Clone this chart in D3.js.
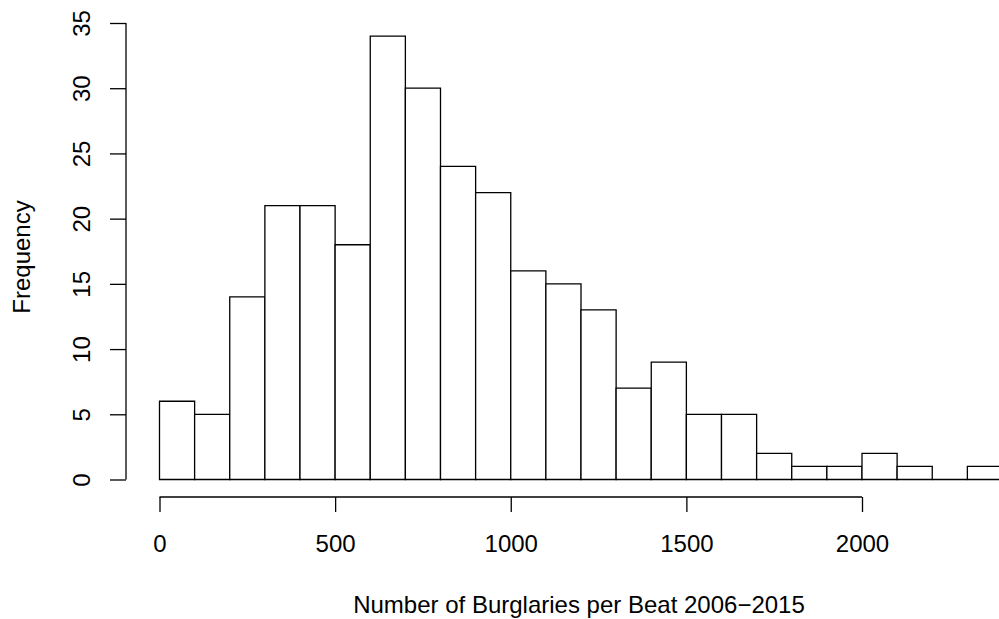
<!DOCTYPE html>
<html>
<head>
<meta charset="utf-8">
<script src="https://cdn.jsdelivr.net/npm/d3@7"></script>
<style>
  body { margin: 0; background: #fff; }
  text { font-family: "Liberation Sans", Arial, sans-serif; fill: #000; }
</style>
</head>
<body>
<svg id="chart" width="999" height="619"></svg>
<script>
// bin edges (lower bound of each 100-wide bin) and counts
const binStarts = [0, 100, 200, 300, 400, 500, 600, 700, 800, 900, 1000, 1100,
  1200, 1300, 1400, 1500, 1600, 1700, 1800, 1900, 2000, 2100, 2200, 2300];
const counts = [6, 5, 14, 21, 21, 18, 34, 30, 24, 22, 16, 15,
  13, 7, 9, 5, 5, 2, 1, 1, 2, 1, 0, 1];
const binWidth = 100;
const xTicks = [0, 500, 1000, 1500, 2000];
const yTicks = [0, 5, 10, 15, 20, 25, 30, 35];

const svg = d3.select("#chart");
const fontSize = "24px";

// scales: x 0 -> 159.5, 2000 -> 862; y 0 -> 479.5, 35 -> 23
const x = d3.scaleLinear().domain([0, 2000]).range([159.5, 862]);
const y = d3.scaleLinear().domain([0, 35]).range([479.5, 23]);

const stroke = 1.3;

// bars as closed paths so an empty bin still shows its base line
svg.append("g")
  .selectAll("path")
  .data(binStarts.map((b, i) => ({ b: b, n: counts[i] })))
  .enter()
  .append("path")
  .attr("d", d => {
    const x0 = x(d.b), x1 = x(d.b + binWidth), y0 = y(0), y1 = y(d.n);
    return `M${x0},${y0}V${y1}H${x1}V${y0}Z`;
  })
  .attr("fill", "#fff")
  .attr("stroke", "#000")
  .attr("stroke-width", stroke);

// x axis, R style: line covers ticks range only, offset below
const xAxis = d3.axisBottom(x).tickValues(xTicks).tickSize(15).tickPadding(0)
  .tickFormat(d3.format("d"));
const gx = svg.append("g")
  .attr("transform", "translate(0,497)")
  .call(xAxis);
gx.select(".domain").attr("d", `M${x(0)},0H${x(2000)}`);
gx.selectAll("path, line").attr("stroke", "#000").attr("stroke-width", stroke);
gx.selectAll(".tick text")
  .attr("y", 552 - 497).attr("dy", null)
  .style("font-size", fontSize);
gx.attr("font-family", null).attr("font-size", null);

// y axis
const yAxis = d3.axisLeft(y).tickValues(yTicks).tickSize(16).tickPadding(0)
  .tickFormat(d3.format("d"));
const gy = svg.append("g")
  .attr("transform", "translate(126,0)")
  .call(yAxis);
gy.select(".domain").attr("d", `M0,${y(0)}V${y(35)}`);
gy.selectAll("path, line").attr("stroke", "#000").attr("stroke-width", stroke);
gy.selectAll(".tick text")
  .attr("x", null).attr("dy", null)
  .attr("text-anchor", "middle")
  .attr("transform", `translate(${90 - 126},0) rotate(-90)`)
  .style("font-size", fontSize);
gy.attr("font-family", null).attr("font-size", null);

// titles
svg.append("text")
  .attr("x", 579)
  .attr("y", 613)
  .attr("text-anchor", "middle")
  .style("font-size", fontSize)
  .text("Number of Burglaries per Beat 2006\u22122015");

svg.append("text")
  .attr("transform", "translate(30,257) rotate(-90)")
  .attr("text-anchor", "middle")
  .style("font-size", fontSize)
  .text("Frequency");
</script>
</body>
</html>
